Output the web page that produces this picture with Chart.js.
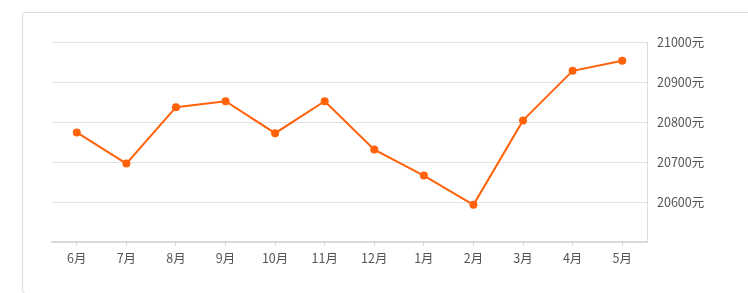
<!DOCTYPE html>
<html>
<head>
<meta charset="utf-8">
<script src="https://cdn.jsdelivr.net/npm/chart.js@4"></script>
<style>
    html, body { margin: 0; padding: 0; background: #fff; overflow: hidden; }
    #wrap { position: relative; width: 748px; height: 293px; overflow: hidden; }
    #box {
        position: absolute; left: 22px; top: 12px; width: 760px; height: 280px;
        border: 1px solid #dcdcdc; border-radius: 4px;
    }
    #canvas { position: absolute; left: 0; top: 0; }
</style>
</head>
<body>
<div id="wrap">
    <div id="box"></div>
    <canvas id="canvas" width="748" height="293"></canvas>
</div>
<script>
// months shown on the x axis
var months = ['6月', '7月', '8月', '9月', '10月', '11月', '12月', '1月', '2月', '3月', '4月', '5月'];

// average price per month (元)
var prices = [20774, 20696, 20837, 20852, 20772, 20852, 20731, 20666, 20593, 20804, 20928, 20953];

// y axis range
var yMin = 20500,
    yMax = 21000,
    yStep = 100;

var lineColor = '#ff6208';
var fontSpec = { family: '"Noto Sans CJK SC", "Microsoft YaHei", sans-serif', size: 12.5 };

var ctx = document.getElementById('canvas').getContext('2d');

new Chart(ctx, {
    type: 'line',
    data: {
        labels: months,
        datasets: [{
            data: prices,
            borderColor: lineColor,
            backgroundColor: lineColor,
            borderWidth: 2,
            pointRadius: 4,
            pointBorderWidth: 0,
            pointBackgroundColor: lineColor,
            tension: 0,
            fill: false
        }]
    },
    options: {
        responsive: false,
        animation: false,
        layout: { padding: { left: 52, top: 42, right: 0, bottom: 0 } },
        plugins: {
            legend: { display: false },
            tooltip: { enabled: false }
        },
        scales: {
            x: {
                offset: true,
                grid: {
                    offset: false,
                    drawOnChartArea: false,
                    drawTicks: true,
                    tickLength: 4,
                    color: '#d6d6d6'
                },
                border: { display: true, color: '#d9d9d9', width: 2 },
                ticks: {
                    color: '#555',
                    font: fontSpec,
                    padding: 5,
                    maxRotation: 0,
                    autoSkip: false
                },
                afterFit: function (scale) { scale.height = 51; }
            },
            y: {
                position: 'right',
                min: yMin,
                max: yMax,
                grid: {
                    color: '#e2e2e2',
                    drawTicks: false
                },
                border: { display: true, color: '#dcdcdc', width: 1 },
                ticks: {
                    stepSize: yStep,
                    color: '#555',
                    font: fontSpec,
                    padding: 10,
                    callback: function (value) {
                        if (value === yMin) return '';
                        return value + '元';
                    }
                },
                afterFit: function (scale) { scale.width = 101; }
            }
        }
    }
});
</script>
</body>
</html>
